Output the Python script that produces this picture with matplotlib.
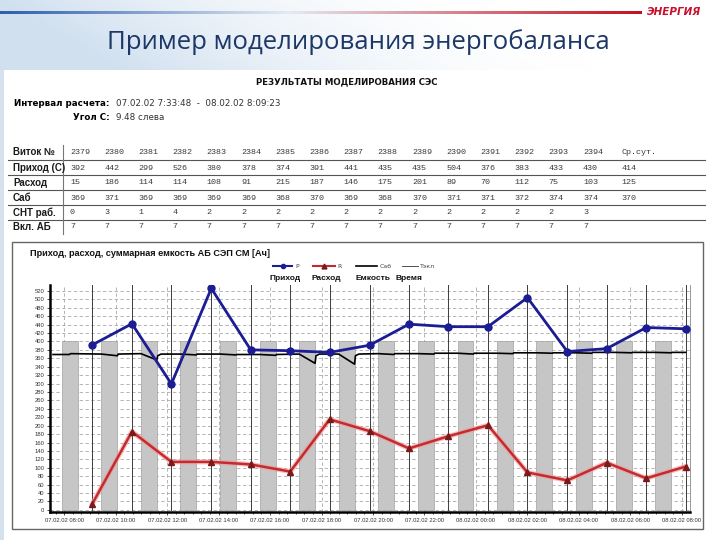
import numpy as np
import matplotlib.pyplot as plt
import matplotlib.dates as mdates
from datetime import datetime

# ---------------- данные таблицы ----------------
row_names = ['Виток №', 'Приход (С)', 'Расход', 'Саб', 'СНТ раб.', 'Вкл. АБ']
orbits = [2379, 2380, 2381, 2382, 2383, 2384, 2385, 2386,
          2387, 2388, 2389, 2390, 2391, 2392, 2393, 2394]
prihod = [392, 442, 299, 526, 380, 378, 374, 391, 441, 435, 435, 504, 376, 383, 433, 430]
rashod = [15, 186, 114, 114, 108, 91, 215, 187, 146, 175, 201, 89, 70, 112, 75, 103]
sab = [369, 371, 369, 369, 369, 369, 368, 370, 369, 368, 370, 371, 371, 372, 374, 374]
snt = [0, 3, 1, 4, 2, 2, 2, 2, 2, 2, 2, 2, 2, 2, 2, 3]
vkl = [7, 7, 7, 7, 7, 7, 7, 7, 7, 7, 7, 7, 7, 7, 7, 7]
sr_sut = ['Ср.сут.', '414', '125', '370', '', '']

# моменты окончания витков (точки графика)
t_points = ['07.02.02 09:06', '07.02.02 10:38', '07.02.02 12:10', '07.02.02 13:43',
            '07.02.02 15:15', '07.02.02 16:47', '07.02.02 18:19', '07.02.02 19:52',
            '07.02.02 21:24', '07.02.02 22:56', '08.02.02 00:28', '08.02.02 02:00',
            '08.02.02 03:33', '08.02.02 05:05', '08.02.02 06:37', '08.02.02 08:09']

# теневые участки орбиты
shadow_start = ['07.02.02 07:55', '07.02.02 09:27', '07.02.02 10:59', '07.02.02 12:31',
                '07.02.02 14:04', '07.02.02 15:36', '07.02.02 17:08', '07.02.02 18:40',
                '07.02.02 20:12', '07.02.02 21:45', '07.02.02 23:17', '08.02.02 00:49',
                '08.02.02 02:21', '08.02.02 03:53', '08.02.02 05:26', '08.02.02 06:58']
shadow_min = 37
shadow_level = 400

# суммарная емкость АБ (Саб)
sab_t = ['07.02.02 07:34', '07.02.02 08:12', '07.02.02 08:15', '07.02.02 09:27',
         '07.02.02 10:04', '07.02.02 10:06', '07.02.02 10:59', '07.02.02 11:36',
         '07.02.02 11:38', '07.02.02 11:46', '07.02.02 12:31', '07.02.02 13:08',
         '07.02.02 13:10', '07.02.02 14:04', '07.02.02 14:41', '07.02.02 14:43',
         '07.02.02 15:36', '07.02.02 16:13', '07.02.02 16:15', '07.02.02 17:08',
         '07.02.02 17:45', '07.02.02 17:47', '07.02.02 17:55', '07.02.02 18:40',
         '07.02.02 19:17', '07.02.02 19:19', '07.02.02 19:27', '07.02.02 20:12',
         '07.02.02 20:49', '07.02.02 20:51', '07.02.02 21:45', '07.02.02 22:22',
         '07.02.02 22:24', '07.02.02 23:17', '07.02.02 23:54', '07.02.02 23:56',
         '08.02.02 00:49', '08.02.02 01:26', '08.02.02 01:28', '08.02.02 02:21',
         '08.02.02 02:58', '08.02.02 03:00', '08.02.02 03:53', '08.02.02 04:30',
         '08.02.02 04:32', '08.02.02 05:26', '08.02.02 06:03', '08.02.02 06:05',
         '08.02.02 06:58', '08.02.02 07:35', '08.02.02 07:37', '08.02.02 08:09']
sab_v = [369, 369, 371, 370, 366, 370, 371, 356, 366, 370, 370, 368, 370, 370, 368, 369,
         369, 367, 369, 370, 348, 366, 370, 370, 346, 366, 370, 371, 369, 371, 371, 370,
         372, 372, 370, 372, 372, 371, 373, 373, 372, 373, 373, 372, 374, 374, 373, 374,
         374, 373, 374, 374]

x_ticks = ['07.02.02 08:00', '07.02.02 10:00', '07.02.02 12:00', '07.02.02 14:00',
           '07.02.02 16:00', '07.02.02 18:00', '07.02.02 20:00', '07.02.02 22:00',
           '08.02.02 00:00', '08.02.02 02:00', '08.02.02 04:00', '08.02.02 06:00',
           '08.02.02 08:00']


def dt(s):
    return datetime.strptime(s, '%d.%m.%y %H:%M')


BLUE = '#1c1c94'
RED = '#c62a2f'

fig = plt.figure(figsize=(7.2, 5.4), dpi=100)

# ---------------- фон слайда (координаты в пикселях) ----------------
bg = fig.add_axes([0, 0, 1, 1])
bg.set_xlim(0, 720)
bg.set_ylim(540, 0)
bg.axis('off')

xx = np.linspace(0, 1, 720)
yy = np.linspace(0, 1, 70)[:, None]
k = np.clip(1 - xx[None, :] * 1.5 + yy * 0.25, 0, 1) ** 1.6
top = np.ones((70, 720, 3))
for c, v in enumerate((0.82, 0.88, 0.94)):
    top[:, :, c] = 1 - (1 - v) * k
bg.imshow(top, extent=[0, 720, 70, 0], aspect='auto', zorder=0)
bg.add_patch(plt.Rectangle((0, 70), 4, 470, color='#d6e1ee', lw=0, zorder=0))

# полоса заголовка: синий -> светлый -> красный
g = np.linspace(0, 1, 300)
bar = np.zeros((1, 300, 3))
c1, c2, c3 = np.array([0.17, 0.37, 0.68]), np.array([0.90, 0.92, 0.95]), np.array([0.78, 0.06, 0.12])
for i, t in enumerate(g):
    bar[0, i] = c1 + (c2 - c1) * (t / 0.45) if t < 0.45 else c2 + (c3 - c2) * ((t - 0.45) / 0.55)
bg.imshow(bar, extent=[0, 642, 14.3, 11.7], aspect='auto', zorder=1)
bg.text(674, 12, 'ЭНЕРГИЯ', ha='center', va='center', fontsize=7.5, color='#c8102e',
        fontweight='bold', style='italic', family='DejaVu Sans')

bg.text(358, 42, 'Пример моделирования энергобаланса', ha='center', va='center',
        fontsize=18.5, color='#1d3767', family='Open Sans')

# ---------------- шапка отчета ----------------
bg.text(347, 82, 'РЕЗУЛЬТАТЫ МОДЕЛИРОВАНИЯ СЭС', ha='center', va='center', fontsize=6.2,
        fontweight='bold', family='Liberation Sans Narrow', color='#111111')
bg.text(110, 103, 'Интервал расчета:', ha='right', va='center', fontsize=6.3,
        fontweight='bold', family='Liberation Sans Narrow')
bg.text(116, 103, '07.02.02 7:33:48  -  08.02.02 8:09:23', ha='left', va='center',
        fontsize=6.3, family='Liberation Sans Narrow', color='#333333')
bg.text(110, 117, 'Угол С:', ha='right', va='center', fontsize=6.3,
        fontweight='bold', family='Liberation Sans Narrow')
bg.text(116, 117, '9.48 слева', ha='left', va='center', fontsize=6.3,
        family='Liberation Sans Narrow', color='#333333')

# ---------------- таблица ----------------
rows = [orbits, prihod, rashod, sab, snt, vkl]
row_y = [152, 168, 183, 198, 213, 227]
col_x0, col_dx = 70, 34.2
for r, (name, vals, y) in enumerate(zip(row_names, rows, row_y)):
    bg.text(13, y, name, ha='left', va='center', fontsize=7, fontweight='bold',
            family='Liberation Sans', color='#1a1a1a')
    for i, v in enumerate(vals):
        bg.text(col_x0 + i * col_dx, y, str(v), ha='left', va='center', fontsize=6,
                family='Liberation Mono', color='#3a3a3a')
    bg.text(col_x0 + len(vals) * col_dx + 4, y, sr_sut[r], ha='left', va='center',
            fontsize=6, family='Liberation Mono', color='#3a3a3a')
for y in [160, 175, 190, 205, 220]:
    bg.plot([8, 705], [y, y], color='#555555', lw=0.8, zorder=2)
bg.plot([63, 63], [145, 234], color='#777777', lw=0.8)

# рамка графика
bg.add_patch(plt.Rectangle((12, 242), 691, 287, fill=False, ec='#666666', lw=1.0))
bg.text(30, 253, 'Приход, расход, суммарная емкость АБ СЭП СМ [Ач]', ha='left',
        va='center', fontsize=6.6, fontweight='bold', family='Liberation Sans',
        color='#111111')

# легенда
ly = 266
bg.plot([273, 292], [ly, ly], color=BLUE, lw=1.5)
bg.plot([282.5], [ly], 'o', color=BLUE, ms=3)
bg.plot([313, 335], [ly, ly], color=RED, lw=1.5)
bg.plot([324], [ly], '^', color='#7a1a1a', ms=3.5)
bg.plot([356, 377], [ly, ly], color='black', lw=1.2)
bg.plot([402, 418], [ly, ly], color='#333333', lw=0.6)
for x, s in [(295, 'P'), (337, 'R'), (380, 'Саб'), (420, 'Тэкл')]:
    bg.text(x, ly, s, ha='left', va='center', fontsize=4.5, color='#444444')
for x, s in [(270, 'Приход'), (312, 'Расход'), (355, 'Емкость'), (395, 'Время')]:
    bg.text(x, 278, s, ha='left', va='center', fontsize=6, fontweight='bold',
            color='#111111', family='Liberation Sans')

# ---------------- график ----------------
ax = fig.add_axes([50 / 720, 1 - 512 / 540, 640 / 720, 227 / 540])
ax.set_facecolor('white')

tp = [dt(s) for s in t_points]
ss = mdates.date2num([dt(s) for s in shadow_start])
ax.bar(ss, [shadow_level] * len(ss), width=shadow_min / 1440, align='edge',
       color='#c6c6c6', edgecolor='#a2a2a2', lw=0.5, zorder=2)
for t in tp:
    ax.axvline(t, color='#3c3c3c', lw=0.7, zorder=3)

ax.plot([dt(s) for s in sab_t], sab_v, color='black', lw=1.2, zorder=4)
ax.plot(tp, rashod, color='#ee9a9a', lw=3.6, alpha=0.6, zorder=4)
ax.plot(tp, rashod, color=RED, lw=1.8, marker='^', ms=5, mfc='#7a1a1a', mec='#7a1a1a',
        zorder=5)
ax.plot(tp, prihod, color=BLUE, lw=2.0, marker='o', ms=5, zorder=6)

ax.set_xlim(datetime(2002, 2, 7, 7, 27), datetime(2002, 2, 8, 8, 19))
ax.set_ylim(-5, 534)
ax.set_yticks(np.arange(0, 521, 20))
ax.set_xticks([dt(s) for s in x_ticks])
ax.xaxis.set_major_formatter(mdates.DateFormatter('%d.%m.%y %H:%M'))
ax.xaxis.set_minor_locator(mdates.MinuteLocator(byminute=[0, 20, 40]))
ax.tick_params(labelsize=4.2, length=2, width=0.6, colors='#333333', pad=2)
ax.tick_params(which='minor', length=1.2, width=0.5)
for lab in ax.get_xticklabels() + ax.get_yticklabels():
    lab.set_family('Liberation Sans')

ax.set_axisbelow(True)
ax.grid(True, ls=(0, (4, 3)), color='#a8a8a8', lw=0.6)
ax.spines['top'].set_visible(False)
ax.spines['right'].set_color('#888888')
ax.spines['right'].set_linewidth(0.6)
ax.spines['left'].set_linewidth(1.8)
ax.spines['bottom'].set_linewidth(1.8)

fig.savefig('out.png', dpi=100)
